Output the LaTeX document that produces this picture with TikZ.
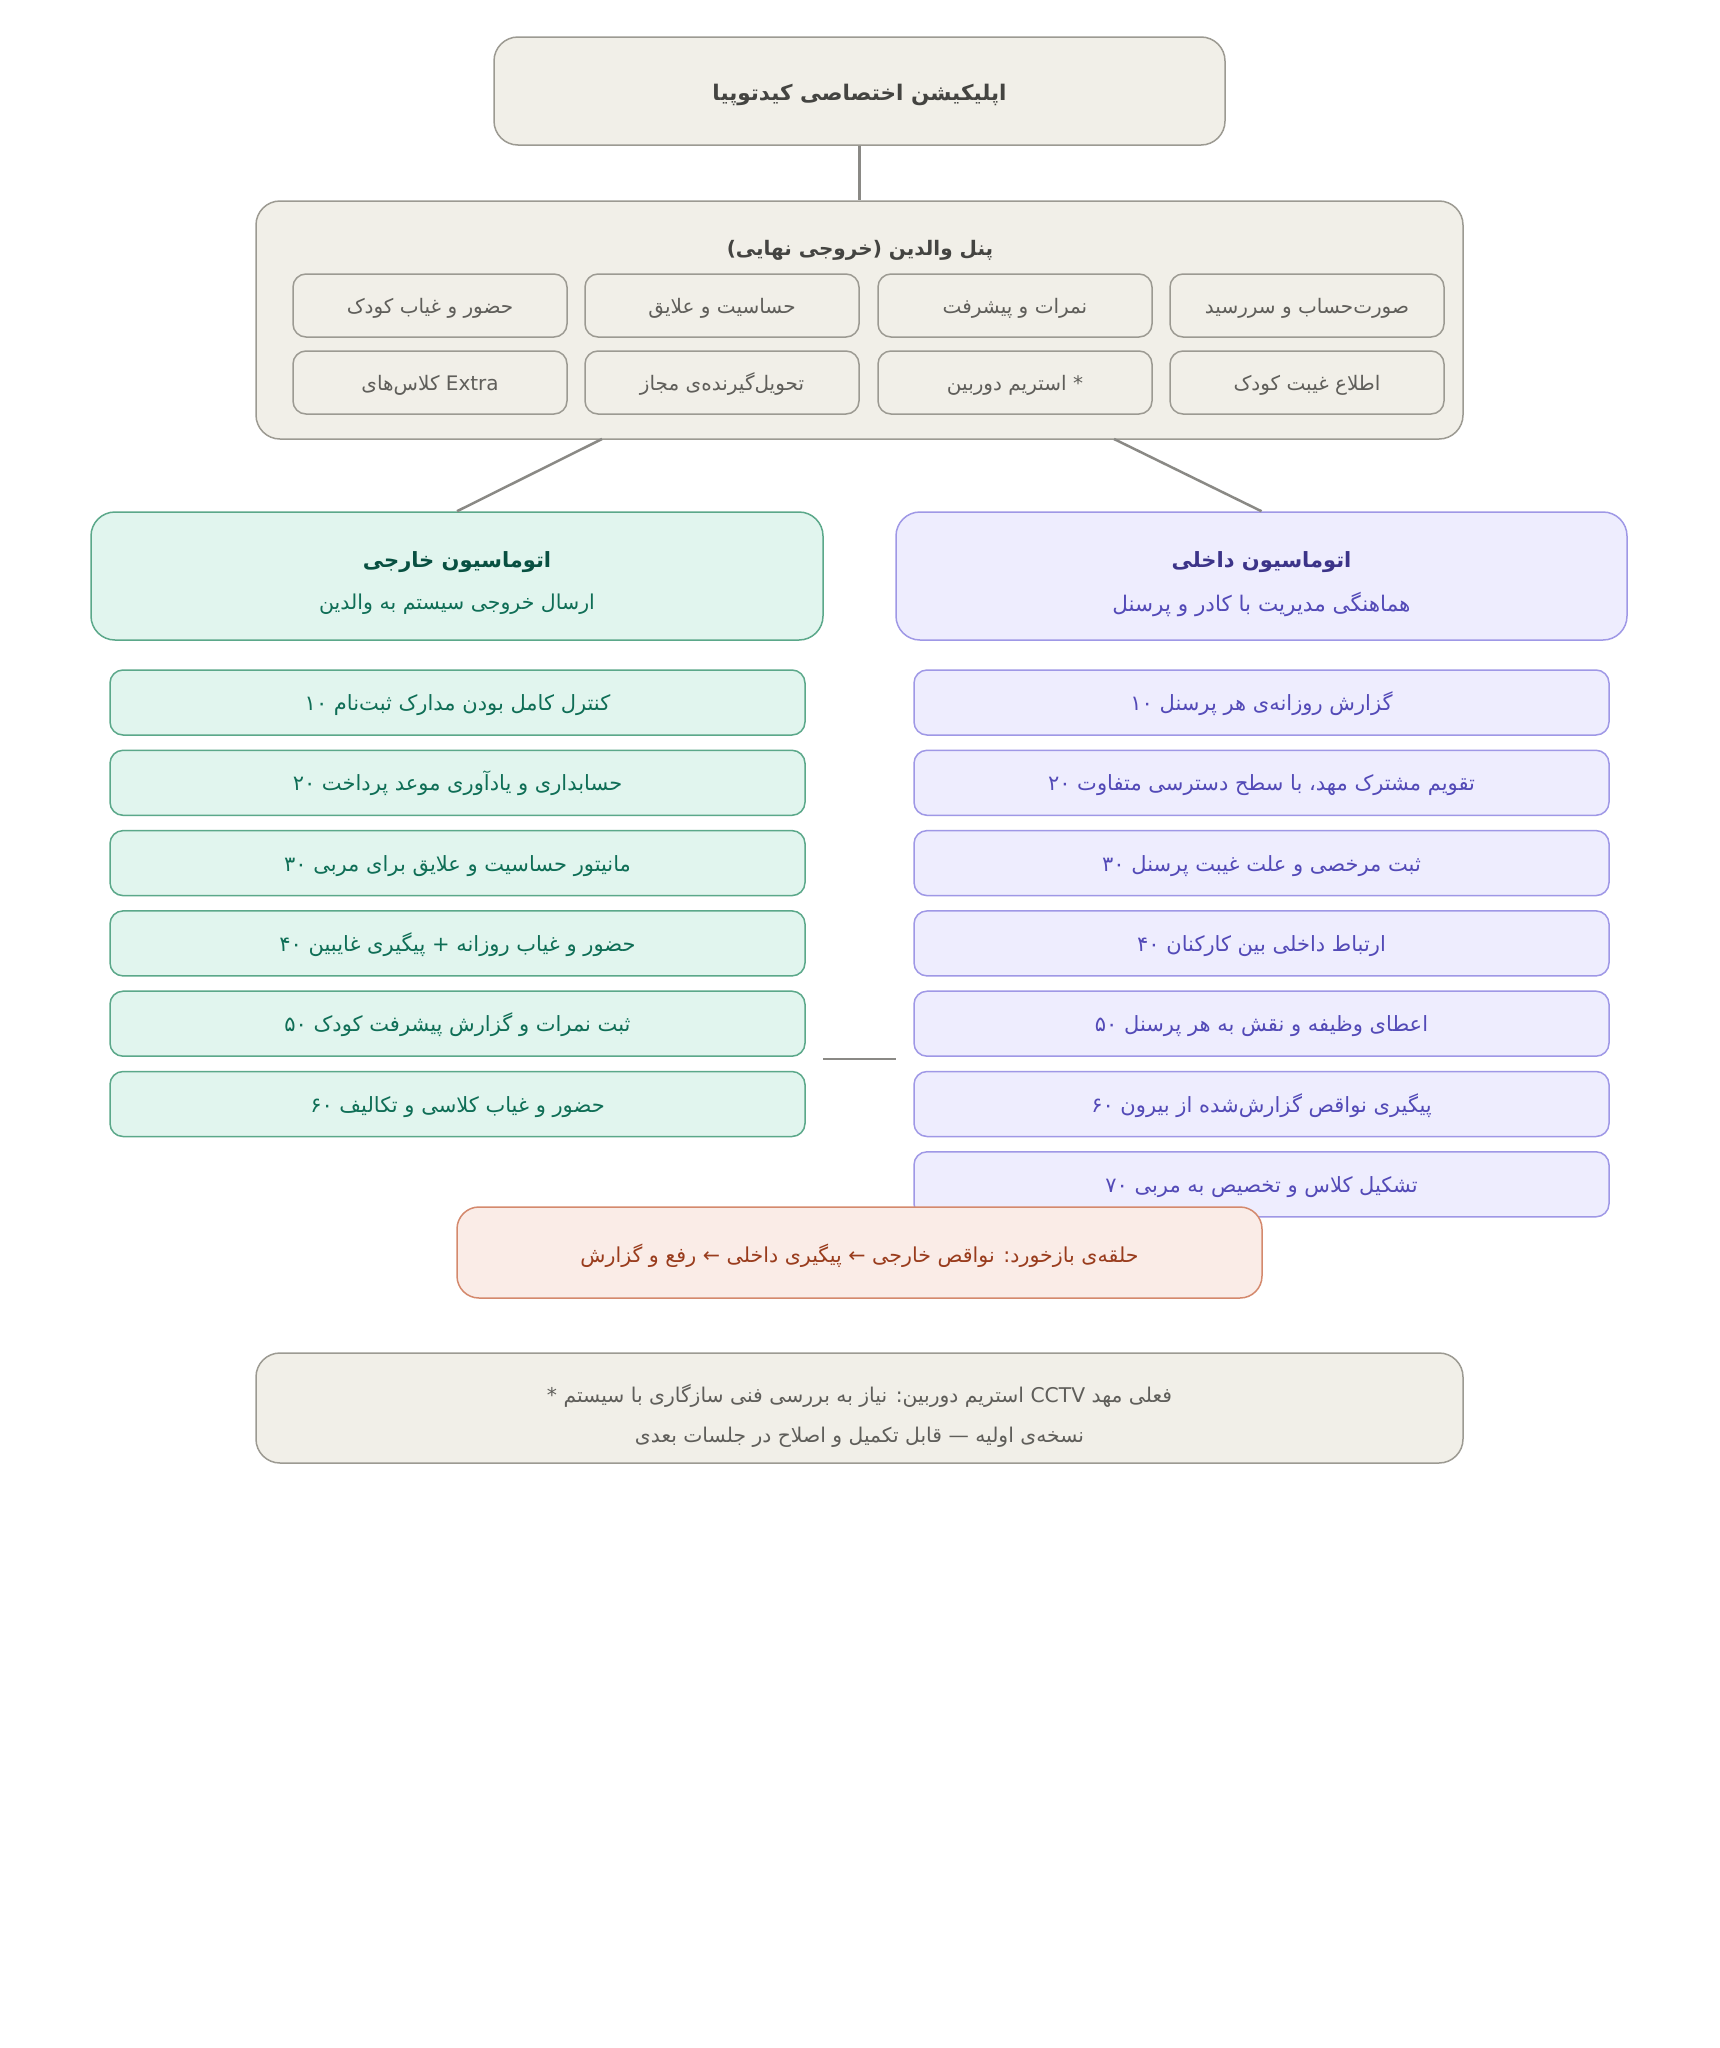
\documentclass[tikz,border=0pt]{standalone}
\usepackage{fontspec}
\newfontfamily\fa[Script=Arabic]{DejaVu Sans}
\TeXXeTstate=1
\newcommand\RL[1]{\beginR #1\endR}
\definecolor{nfill}{HTML}{F1EFE8}
\definecolor{nborder}{HTML}{9C9A92}
\definecolor{ntext}{HTML}{5F5E5A}
\definecolor{ntitle}{HTML}{444441}
\definecolor{gfill}{HTML}{E1F5EE}
\definecolor{gborder}{HTML}{5BA88A}
\definecolor{gtitle}{HTML}{085041}
\definecolor{gtext}{HTML}{0F6E56}
\definecolor{pfill}{HTML}{EEEDFE}
\definecolor{pborder}{HTML}{9F98E6}
\definecolor{ptitle}{HTML}{3C3489}
\definecolor{ptext}{HTML}{534AB7}
\definecolor{cfill}{HTML}{FAECE7}
\definecolor{cborder}{HTML}{D4896D}
\definecolor{ctext}{HTML}{993C1D}
\definecolor{conn}{HTML}{8A8985}
\tikzset{
  box/.style={draw, line width=1.5pt, inner sep=0pt, align=center},
  nbox/.style={box, fill=nfill, draw=nborder},
  gbox/.style={box, fill=gfill, draw=gborder},
  pbox/.style={box, fill=pfill, draw=pborder},
  cbox/.style={box, fill=cfill, draw=cborder},
  cell/.style={nbox, rounded corners=13pt, minimum width=274pt, minimum height=63pt, text=ntext, font=\fa\fontsize{20}{24}\selectfont, text height=21pt, text depth=5pt},
  gitem/.style={gbox, rounded corners=13pt, minimum width=695pt, minimum height=65pt, text=gtext, font=\fa\fontsize{21}{25}\selectfont, text height=21pt, text depth=5pt},
  pitem/.style={pbox, rounded corners=13pt, minimum width=695pt, minimum height=65pt, text=ptext, font=\fa\fontsize{21}{25}\selectfont, text height=21pt, text depth=5pt},
  txt/.style={inner sep=0pt, font=\fa\fontsize{21}{25}\selectfont},
  ttl/.style={inner sep=0pt, font=\fa\bfseries\fontsize{21}{25}\selectfont},
  conline/.style={draw=conn, line width=2.5pt},
}
\begin{document}
\begin{tikzpicture}[x=1pt, y=-1pt]
\fill[white] (0,0) rectangle (1719,2048);
\path[use as bounding box] (0,0) rectangle (1719,2048);

% top
\node[nbox, rounded corners=24pt, minimum width=731pt, minimum height=108pt] (app) at (859.5,91) {};
\node[ttl, text=ntitle, font=\fa\bfseries\fontsize{21.5}{26}\selectfont] (appT) at (859.5,95) {\RL{اپلیکیشن اختصاصی کیدتوپیا}};

% panel
\node[nbox, rounded corners=24pt, minimum width=1207pt, minimum height=238pt] (panel) at (859.5,320) {};
\node[ttl, text=ntitle, font=\fa\bfseries\fontsize{20}{24}\selectfont] (panelT) at (860,250) {\RL{پنل والدین (خروجی نهایی)}};
\node[cell] (c14) at (1307,305.5) {\RL{صورت^^^^200cحساب و سررسید}};
\node[cell] (c13) at (1015,305.5) {\RL{نمرات و پیشرفت}};
\node[cell] (c12) at (722,305.5) {\RL{حساسیت و علایق}};
\node[cell] (c11) at (430,305.5) {\RL{حضور و غیاب کودک}};
\node[cell] (c24) at (1307,382.5) {\RL{اطلاع غیبت کودک}};
\node[cell] (c23) at (1015,382.5) {\RL{استریم دوربین} *};
\node[cell] (c22) at (722,382.5) {\RL{تحویل^^^^200cگیرنده^^^^200cی مجاز}};
\node[cell] (c21) at (430,382.5) {\RL{کلاس^^^^200cهای} Extra};

\draw[conline] (app) -- (panel);

% group boxes
\node[gbox, rounded corners=24pt, minimum width=732pt, minimum height=128pt] (ext) at (457,576) {};
\node[ttl, text=gtitle] (extT) at (457,562) {\RL{اتوماسیون خارجی}};
\node[txt, text=gtext, font=\fa\fontsize{20.5}{25}\selectfont] (extS) at (457,604) {\RL{ارسال خروجی سیستم به والدین}};
\node[pbox, rounded corners=24pt, minimum width=731pt, minimum height=128pt] (int) at (1261.5,576) {};
\node[ttl, text=ptitle] (intT) at (1261.5,562) {\RL{اتوماسیون داخلی}};
\node[txt, text=ptext, font=\fa\fontsize{21.5}{25}\selectfont] (intS) at (1261.5,604) {\RL{هماهنگی مدیریت با کادر و پرسنل}};

\coordinate (pl) at (602,439);
\coordinate (pr) at (1114,439);
\draw[conline] (pl) -- (ext.north);
\draw[conline] (pr) -- (int.north);

% green items
\node[gitem] (g1) at (457.5,702.5) {۱۰ \RL{کنترل کامل بودن مدارک ثبت^^^^200cنام}};
\node[gitem] (g2) at (457.5,782.8) {۲۰ \RL{حسابداری و یادآوری موعد پرداخت}};
\node[gitem] (g3) at (457.5,863.1) {۳۰ \RL{مانیتور حساسیت و علایق برای مربی}};
\node[gitem] (g4) at (457.5,943.4) {۴۰ \RL{حضور و غیاب روزانه + پیگیری غایبین}};
\node[gitem] (g5) at (457.5,1023.7) {۵۰ \RL{ثبت نمرات و گزارش پیشرفت کودک}};
\node[gitem] (g6) at (457.5,1104) {۶۰ \RL{حضور و غیاب کلاسی و تکالیف}};

% purple items
\node[pitem] (p1) at (1261.5,702.5) {۱۰ \RL{گزارش روزانه^^^^200cی هر پرسنل}};
\node[pitem] (p2) at (1261.5,782.8) {۲۰ \RL{تقویم مشترک مهد، با سطح دسترسی متفاوت}};
\node[pitem] (p3) at (1261.5,863.1) {۳۰ \RL{ثبت مرخصی و علت غیبت پرسنل}};
\node[pitem] (p4) at (1261.5,943.4) {۴۰ \RL{ارتباط داخلی بین کارکنان}};
\node[pitem] (p5) at (1261.5,1023.7) {۵۰ \RL{اعطای وظیفه و نقش به هر پرسنل}};
\node[pitem] (p6) at (1261.5,1104) {۶۰ \RL{پیگیری نواقص گزارش^^^^200cشده از بیرون}};
\node[pitem] (p7) at (1261.5,1184.3) {۷۰ \RL{تشکیل کلاس و تخصیص به مربی}};

\coordinate (ml) at (823,1059);
\coordinate (mr) at (896,1059);
\draw[conline] (ml) -- (mr);

% feedback
\node[cbox, rounded corners=22pt, minimum width=805pt, minimum height=91pt] (fb) at (859.5,1252.5) {};
\node[txt, text=ctext, font=\fa\fontsize{20.6}{25}\selectfont] (fbT) at (859.5,1256) {\RL{حلقه^^^^200cی بازخورد: نواقص خارجی ← پیگیری داخلی ← رفع و گزارش}};

% footnote
\node[nbox, rounded corners=24pt, minimum width=1207pt, minimum height=110pt] (note) at (859.5,1408) {};
\node[txt, text=ntext, font=\fa\fontsize{20.3}{25}\selectfont] (note1) at (859.5,1396) {* \RL{استریم دوربین: نیاز به بررسی فنی سازگاری با سیستم} CCTV \RL{فعلی مهد}};
\node[txt, text=ntext, font=\fa\fontsize{20.3}{25}\selectfont] (note2) at (859.5,1437) {\RL{نسخه^^^^200cی اولیه — قابل تکمیل و اصلاح در جلسات بعدی}};
\end{tikzpicture}
\end{document}
